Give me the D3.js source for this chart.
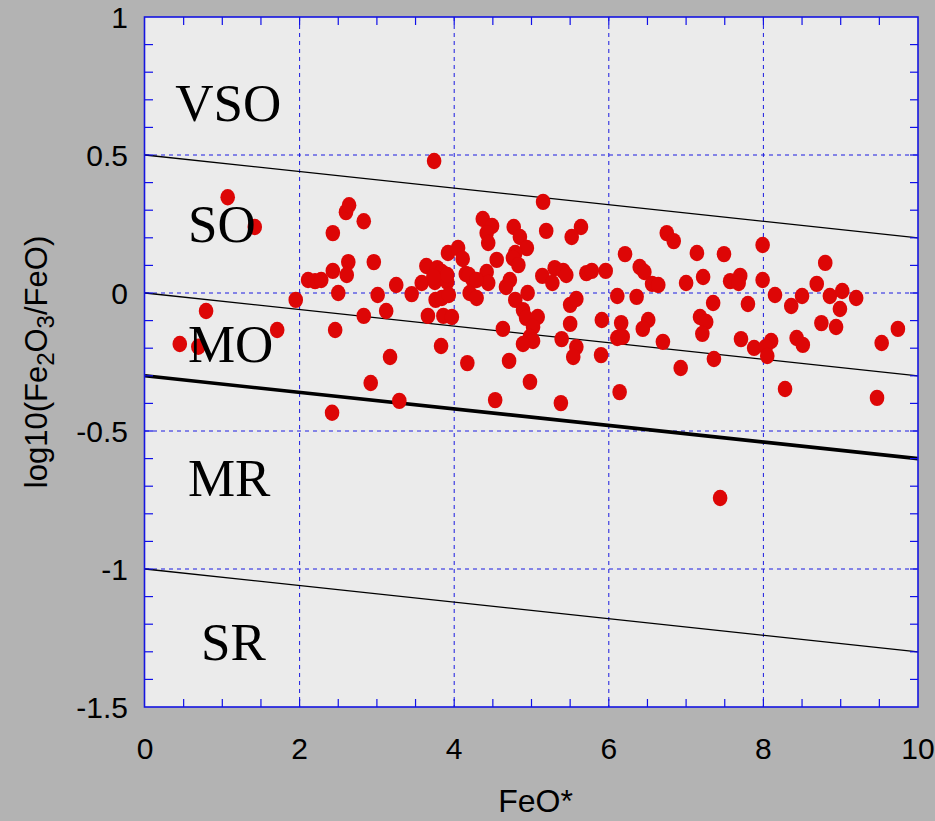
<!DOCTYPE html>
<html><head><meta charset="utf-8">
<script src="https://cdn.jsdelivr.net/npm/d3@7"></script>
<style>html,body{margin:0;padding:0;background:#b3b3b3;overflow:hidden;}</style>
</head><body><svg id="chart" width="935" height="821"></svg>
<script>
// ---- data ----
const feo = [
 0.45,0.69,0.79,1.07,1.42,1.71,1.95,2.11,2.20,2.28,
 2.43,2.43,2.50,2.46,2.42,2.60,2.64,2.83,2.63,2.61,
 2.96,3.01,2.83,3.12,3.25,3.45,3.17,2.92,3.29,3.74,
 3.58,3.75,3.91,3.64,3.78,3.84,3.91,3.73,3.76,3.84,
 3.93,3.66,3.86,3.97,3.83,3.92,4.05,4.11,4.15,4.24,
 4.19,4.20,4.29,4.42,4.44,4.37,4.49,4.42,4.44,4.17,
 4.53,4.55,4.63,4.71,4.77,4.85,4.94,4.79,4.76,4.83,
 4.72,4.67,4.79,4.95,4.89,4.93,5.08,5.02,4.98,5.02,
 4.89,4.98,5.15,5.19,5.14,5.30,5.41,5.45,5.27,5.64,
 5.52,5.50,5.58,5.50,5.39,5.58,5.54,5.38,5.71,5.78,
 5.96,5.91,5.90,6.11,6.16,6.11,6.18,6.14,6.21,6.36,
 6.40,6.46,6.56,6.64,6.51,6.44,6.70,6.75,6.84,6.93,
 7.00,7.14,7.22,7.18,7.26,7.21,7.35,7.36,7.49,7.57,
 7.70,7.68,7.71,7.80,7.88,7.99,7.99,8.10,8.03,8.05,
 8.28,8.15,8.36,8.43,8.51,8.50,8.69,8.80,8.75,8.94,
 8.86,9.02,8.99,9.20,9.53,9.74,9.47,7.44,
 4.29
];
const logRatio = [
 -0.185,-0.195,-0.065,0.347,0.239,-0.134,-0.025,0.047,0.043,0.047,
 0.217,0.080,0.000,-0.134,-0.434,0.293,0.318,0.260,0.112,0.065,
 0.112,-0.007,-0.083,-0.065,0.029,-0.004,-0.232,-0.326,-0.391,0.478,
 0.036,0.040,0.040,0.098,0.090,0.076,0.065,0.058,-0.025,-0.018,
 -0.007,-0.083,-0.083,-0.087,-0.192,0.145,0.163,0.123,0.069,0.047,
 0.065,0.000,-0.018,0.076,0.036,0.268,0.243,0.217,0.181,-0.254,
 -0.388,0.120,-0.130,-0.246,0.239,0.203,0.163,0.145,0.127,0.101,
 0.047,0.022,-0.025,0.000,-0.062,-0.090,-0.087,-0.123,-0.159,-0.174,
 -0.185,-0.322,0.330,0.225,0.062,0.090,0.080,0.065,0.036,0.239,
 0.203,-0.043,-0.022,-0.112,-0.167,-0.196,-0.232,-0.399,0.072,0.080,
 0.080,-0.098,-0.225,-0.011,-0.109,-0.163,-0.159,-0.359,0.141,-0.014,
 0.094,0.076,0.033,0.029,-0.098,-0.130,-0.177,0.217,0.188,-0.272,
 0.036,0.145,0.058,-0.087,-0.105,-0.148,-0.036,-0.239,0.141,0.043,
 0.062,0.036,-0.167,-0.040,-0.199,0.174,0.047,-0.174,-0.196,-0.228,
 -0.348,-0.007,-0.047,-0.163,-0.188,-0.011,0.033,0.109,-0.109,-0.123,
 -0.011,0.007,-0.058,-0.018,-0.181,-0.130,-0.380,-0.743,
 0.047
];
const xTicks = [0, 2, 4, 6, 8, 10];
const xTickLabels = ["0", "2", "4", "6", "8", "10"];
const yTicks = [1, 0.5, 0, -0.5, -1, -1.5];
const yTickLabels = ["1", "0.5", "0", "-0.5", "-1", "-1.5"];
const lineIntercepts = [0.5, 0, -0.3, -1];
const lineSlope = -0.03;
const regionNames = ["VSO", "SO", "MO", "MR", "SR"];
const regionAnchorX = [0.39, 0.556, 0.556, 0.556, 0.724];
const regionAnchorY = [0.625, 0.184, -0.251, -0.737, -1.33];

// ---- layout ----
const svg = d3.select("#chart");
const L = 145, R = 918, T = 17, B = 707;
const x = d3.scaleLinear().domain([0, 10]).range([L, R]);
const y = d3.scaleLinear().domain([-1.5, 1]).range([B, T]);

svg.append("rect").attr("width", 935).attr("height", 821).attr("fill", "#b3b3b3");
svg.append("rect").attr("x", L).attr("y", T).attr("width", R - L).attr("height", B - T).attr("fill", "#ebebeb");

// grid
const grid = svg.append("g").attr("stroke", "#1a1ae0").attr("stroke-width", 1).attr("stroke-dasharray", "4,4");
xTicks.filter(v => v > 0 && v < 10).forEach(v => {
  grid.append("line").attr("x1", x(v)).attr("x2", x(v)).attr("y1", T).attr("y2", B);
});
yTicks.filter(v => v > -1.5 && v < 1).forEach(v => {
  grid.append("line").attr("y1", y(v)).attr("y2", y(v)).attr("x1", L).attr("x2", R);
});

// boundary lines
lineIntercepts.forEach(b => {
  svg.append("line")
    .attr("x1", x(0)).attr("y1", y(b))
    .attr("x2", x(10)).attr("y2", y(b + lineSlope * 10))
    .attr("stroke", "#000")
    .attr("stroke-width", b === -0.3 ? 3.6 : 1.3);
});

// points
const pts = feo.map((v, i) => [v, logRatio[i]]);
svg.append("g").selectAll("ellipse").data(pts).join("ellipse")
  .attr("cx", d => x(d[0])).attr("cy", d => y(d[1]))
  .attr("rx", 7.3).attr("ry", 8.2)
  .attr("fill", "#dd0606");

// region labels
svg.append("g").selectAll("text").data(regionNames).join("text")
  .attr("x", (d, i) => x(regionAnchorX[i]))
  .attr("y", (d, i) => y(regionAnchorY[i]))
  .attr("font-family", "'Liberation Serif', 'Times New Roman', serif")
  .attr("font-size", 53)
  .attr("fill", "#000")
  .text(d => d);

// minor ticks
const tk = svg.append("g").attr("stroke", "#1010e8").attr("stroke-width", 1.2);
d3.range(0.5, 10, 0.5).forEach(v => {
  tk.append("line").attr("x1", x(v)).attr("x2", x(v)).attr("y1", B).attr("y2", B - 8);
  tk.append("line").attr("x1", x(v)).attr("x2", x(v)).attr("y1", T).attr("y2", T + 8);
});
d3.range(-14, 10, 1).map(k => k / 10).forEach(v => {
  tk.append("line").attr("y1", y(v)).attr("y2", y(v)).attr("x1", L).attr("x2", L + 8);
  tk.append("line").attr("y1", y(v)).attr("y2", y(v)).attr("x1", R).attr("x2", R - 8);
});

// frame
svg.append("rect").attr("x", L - 0.5).attr("y", T).attr("width", R - L + 0.5).attr("height", B - T)
  .attr("fill", "none").attr("stroke", "#1515e0").attr("stroke-width", 1.6);

// tick labels
const font = "'Liberation Sans', Arial, sans-serif";
svg.append("g").selectAll("text").data(xTicks).join("text")
  .attr("x", d => x(d)).attr("y", 759)
  .attr("text-anchor", "middle").attr("font-family", font).attr("font-size", 30).attr("fill", "#000")
  .text((d, i) => xTickLabels[i]);
svg.append("g").selectAll("text").data(yTicks).join("text")
  .attr("x", 128).attr("y", d => y(d)).attr("dy", "0.36em")
  .attr("text-anchor", "end").attr("font-family", font).attr("font-size", 30).attr("fill", "#000")
  .text((d, i) => yTickLabels[i]);

// axis titles
svg.append("text").attr("x", (L + R) / 2 + 4).attr("y", 812)
  .attr("text-anchor", "middle").attr("font-family", font).attr("font-size", 32).attr("fill", "#000")
  .text("FeO*");

const yt = svg.append("text")
  .attr("transform", `translate(47,${(T + B) / 2}) rotate(-90)`)
  .attr("text-anchor", "middle").attr("font-family", font).attr("font-size", 31).attr("fill", "#000");
yt.append("tspan").text("log10(Fe");
yt.append("tspan").attr("baseline-shift", "-30%").attr("font-size", 24).text("2");
yt.append("tspan").text("O");
yt.append("tspan").attr("baseline-shift", "-30%").attr("font-size", 24).text("3");
yt.append("tspan").text("/FeO)");
</script>
</body></html>
